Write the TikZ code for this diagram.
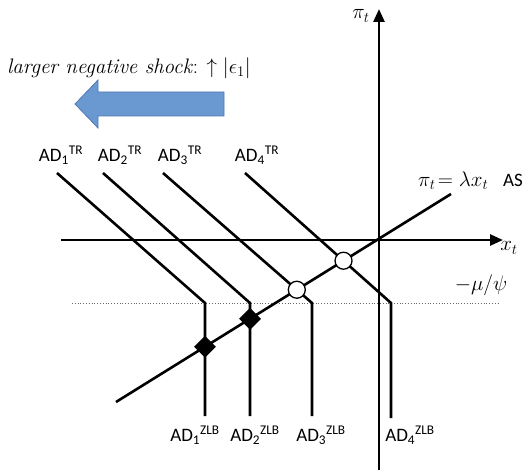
\RequirePackage{fix-cm}
\documentclass[tikz,border=0pt]{standalone}
\usepackage{fontspec}
\newfontfamily\calibri{Carlito}
\usetikzlibrary{arrows.meta,shapes.geometric}
\begin{document}
\begin{tikzpicture}[x=1pt,y=-1pt,
  thick line/.style={line width=2.6pt,line join=miter},
  axisline/.style={line width=2.6pt,-{Triangle[length=13pt,width=11pt]}},
  adlabel/.style={font=\calibri\fontsize{19}{22}\selectfont,inner sep=0pt},
  mathlabel/.style={font=\fontsize{21}{24}\selectfont,inner sep=0pt},
  opendot/.style={circle,draw=black,fill=white,line width=1.3pt,minimum size=17pt,inner sep=0pt},
  filldot/.style={diamond,fill=black,minimum size=22pt,inner sep=0pt},
  bigarrow/.style={fill={rgb,255:red,106;green,152;blue,208},draw={rgb,255:red,80;green,120;blue,180},line width=0.8pt}
]
\useasboundingbox (0,0) rectangle (525,473);
\clip (0,0) rectangle (525,473);

% coordinates
\coordinate (O) at (379,240);
\coordinate (vb) at (379,470);
\coordinate (vt) at (379,9);
\coordinate (hl) at (61,240);
\coordinate (hr) at (503,240);
\coordinate (asl) at (116,402);
\coordinate (asr) at (451,194);
\coordinate (zl) at (72,303);
\coordinate (zr) at (500,303);

\coordinate (a1t) at (57,173);  \coordinate (a1k) at (205,303); \coordinate (a1b) at (205,416);
\coordinate (a2t) at (103,173); \coordinate (a2k) at (250,303); \coordinate (a2b) at (250,416);
\coordinate (a3t) at (163,173); \coordinate (a3k) at (312,303); \coordinate (a3b) at (312,416);
\coordinate (a4t) at (245,173); \coordinate (a4k) at (391,303); \coordinate (a4b) at (391,418);

% ZLB dotted line
\draw[black!60,line width=0.8pt,dotted] (zl) -- (zr);

% axes
\draw[axisline] (vb) -- (vt);
\draw[axisline] (hl) -- (hr);

% AS
\draw[thick line] (asl) -- (asr);

% AD curves
\draw[thick line] (a1t) -- (a1k) -- (a1b);
\draw[thick line] (a2t) -- (a2k) -- (a2b);
\draw[thick line] (a3t) -- (a3k) -- (a3b);
\draw[thick line] (a4t) -- (a4k) -- (a4b);

% equilibria
\node[opendot] (e4) at (intersection of a4t--a4k and asl--asr) {};
\node[opendot] (e3) at (intersection of a3t--a3k and asl--asr) {};
\node[filldot] (e2) at (intersection of a2k--a2b and asl--asr) {};
\node[filldot] (e1) at (intersection of a1k--a1b and asl--asr) {};

% labels
\node[mathlabel] (pit) at (361,16) {$\pi_t$};
\node[mathlabel] (xt) at (509,248) {$x_t$};
\node[mathlabel,anchor=west] (aseq) at (418,181) {$\pi_t\!=\lambda x_t$};
\node[adlabel,anchor=west] (aslab) at (503,180) {AS};
\node[mathlabel] (mupsi) at (481,285) {$-\mu/\psi$};

\node[adlabel] (l1) at (61,155) {AD\textsubscript{1}\textsuperscript{TR}};
\node[adlabel] (l2) at (120,155) {AD\textsubscript{2}\textsuperscript{TR}};
\node[adlabel] (l3) at (180,155) {AD\textsubscript{3}\textsuperscript{TR}};
\node[adlabel] (l4) at (257,155) {AD\textsubscript{4}\textsuperscript{TR}};

\node[adlabel] (z1) at (195,435) {AD\textsubscript{1}\textsuperscript{ZLB}};
\node[adlabel] (z2) at (255,435) {AD\textsubscript{2}\textsuperscript{ZLB}};
\node[adlabel] (z3) at (321,435) {AD\textsubscript{3}\textsuperscript{ZLB}};
\node[adlabel] (z4) at (410,435) {AD\textsubscript{4}\textsuperscript{ZLB}};

% shock text and arrow
\node[mathlabel,anchor=west] (shock) at (7,68) {\textit{larger negative shock}: $\uparrow|\epsilon_1|$};
\draw[bigarrow] (75,104) -- (98,80) -- (98,92) -- (224,92) -- (224,116) -- (98,116) -- (98,128) -- cycle;
\end{tikzpicture}
\end{document}
